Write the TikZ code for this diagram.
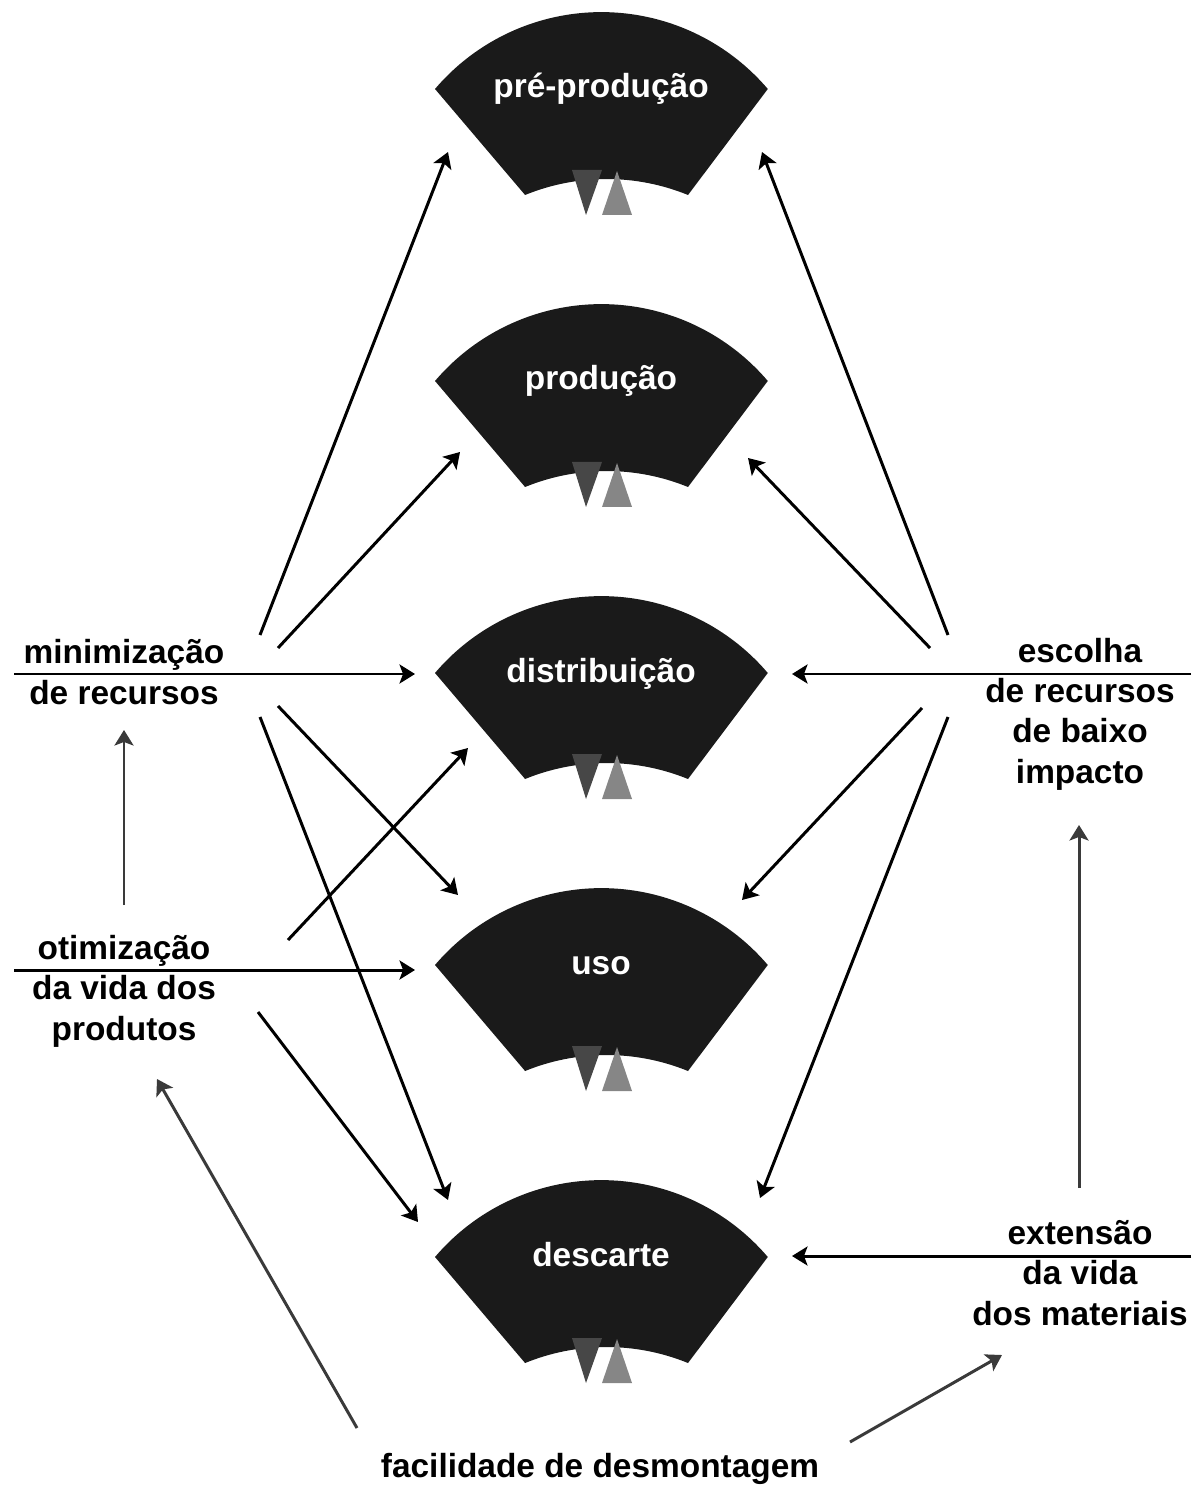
\documentclass[tikz,border=0pt]{standalone}
\usepackage{fontspec}
\setmainfont{Liberation Sans}
\usetikzlibrary{arrows.meta}

\definecolor{fasecor}{HTML}{1A1A1A}
\definecolor{triescuro}{HTML}{474747}
\definecolor{triclaro}{HTML}{868686}
\definecolor{setacinza}{HTML}{3A3A3A}

\tikzset{
	rotulo/.style={font=\fontsize{9.5}{11.4}\selectfont\bfseries, align=center, inner sep=0pt, anchor=base},
	fasetxt/.style={rotulo, text=white},
	seta/.style={line width=0.85pt, -{Stealth[length=4.4pt,width=5.4pt,inset=1pt]}},
	setacz/.style={seta, draw=setacinza},
}

\begin{document}
\begin{tikzpicture}[x=0.01cm, y=0.01cm]
		\useasboundingbox (0,0) rectangle (1191,-1486);
		% fases do ciclo de vida
		\foreach \nome/\yy/\txt in {pre/89/pré-produção, pro/381/produção, dis/673/distribuição, uso/965/uso, des/1257/descarte} {
			\begin{scope}[shift={(601,-\yy)}]
				\fill [fasecor] (-166,0) arc [start angle=139.6, end angle=40.4, radius=218.5]
					-- (87,-106) arc [start angle=67.8, end angle=112.2, radius=215.6] -- cycle;
				\fill [triescuro] (-29,-81) -- (1,-81) -- (-15,-126) -- cycle;
				\fill [triclaro] (16,-82) -- (31,-126) -- (1,-126) -- cycle;
				\node [fasetxt] (\nome) at (0,-9) {\txt};
			\end{scope}
		}
		% estrategias (base = ultima linha)
		\node [rotulo] (minrec) at (124,-704) {minimização\\de recursos};
		\node [rotulo] (otim) at (124,-1040) {otimização\\da vida dos\\produtos};
		\node [rotulo] (escolha) at (1080,-783) {escolha\\de recursos\\de baixo\\impacto};
		\node [rotulo] (extvida) at (1080,-1325) {extensão\\da vida\\dos materiais};
		\node [rotulo] (facil) at (600,-1477) {facilidade de desmontagem};
		% pontas das setas
		\coordinate (minrec-a) at (260,-635);
		\coordinate (minrec-b) at (278,-648);
		\coordinate (minrec-c) at (14,-674);
		\coordinate (minrec-d) at (278,-706);
		\coordinate (minrec-e) at (260,-717);
		\coordinate (minrec-s) at (124,-730);
		\coordinate (otim-a) at (288,-940);
		\coordinate (otim-b) at (14,-970);
		\coordinate (otim-c) at (258,-1012);
		\coordinate (otim-n) at (124,-905);
		\coordinate (otim-s) at (157,-1079);
		\coordinate (escolha-a) at (948,-635);
		\coordinate (escolha-b) at (930,-648);
		\coordinate (escolha-c) at (1191,-674);
		\coordinate (escolha-d) at (922,-708);
		\coordinate (escolha-e) at (948,-717);
		\coordinate (escolha-s) at (1079,-825);
		\coordinate (extvida-a) at (1191,-1256);
		\coordinate (extvida-n) at (1079,-1188);
		\coordinate (extvida-s) at (1002,-1355);
		\coordinate (facil-a) at (357,-1428);
		\coordinate (facil-b) at (850,-1442);
		\coordinate (pre-l) at (448,-152);
		\coordinate (pre-r) at (762,-152);
		\coordinate (pro-l) at (460,-452);
		\coordinate (pro-r) at (748,-458);
		\coordinate (dis-l) at (415,-674);
		\coordinate (dis-r) at (792,-674);
		\coordinate (dis-b) at (468,-748);
		\coordinate (uso-l) at (458,-895);
		\coordinate (uso-r) at (742,-900);
		\coordinate (uso-w) at (415,-970);
		\coordinate (des-l) at (448,-1200);
		\coordinate (des-w) at (418,-1222);
		\coordinate (des-r) at (760,-1198);
		\coordinate (des-e) at (792,-1256);
		% setas
		\draw [seta] (minrec-a) -- (pre-l);
		\draw [seta] (minrec-b) -- (pro-l);
		\draw [seta] (minrec-c) -- (dis-l);
		\draw [seta] (minrec-d) -- (uso-l);
		\draw [seta] (minrec-e) -- (des-l);
		\draw [seta] (otim-a) -- (dis-b);
		\draw [seta] (otim-b) -- (uso-w);
		\draw [seta] (otim-c) -- (des-w);
		\draw [seta] (escolha-a) -- (pre-r);
		\draw [seta] (escolha-b) -- (pro-r);
		\draw [seta] (escolha-c) -- (dis-r);
		\draw [seta] (escolha-d) -- (uso-r);
		\draw [seta] (escolha-e) -- (des-r);
		\draw [seta] (extvida-a) -- (des-e);
		\draw [setacz] (otim-n) -- (minrec-s);
		\draw [setacz] (extvida-n) -- (escolha-s);
		\draw [setacz] (facil-a) -- (otim-s);
		\draw [setacz] (facil-b) -- (extvida-s);
	\end{tikzpicture}
\end{document}
